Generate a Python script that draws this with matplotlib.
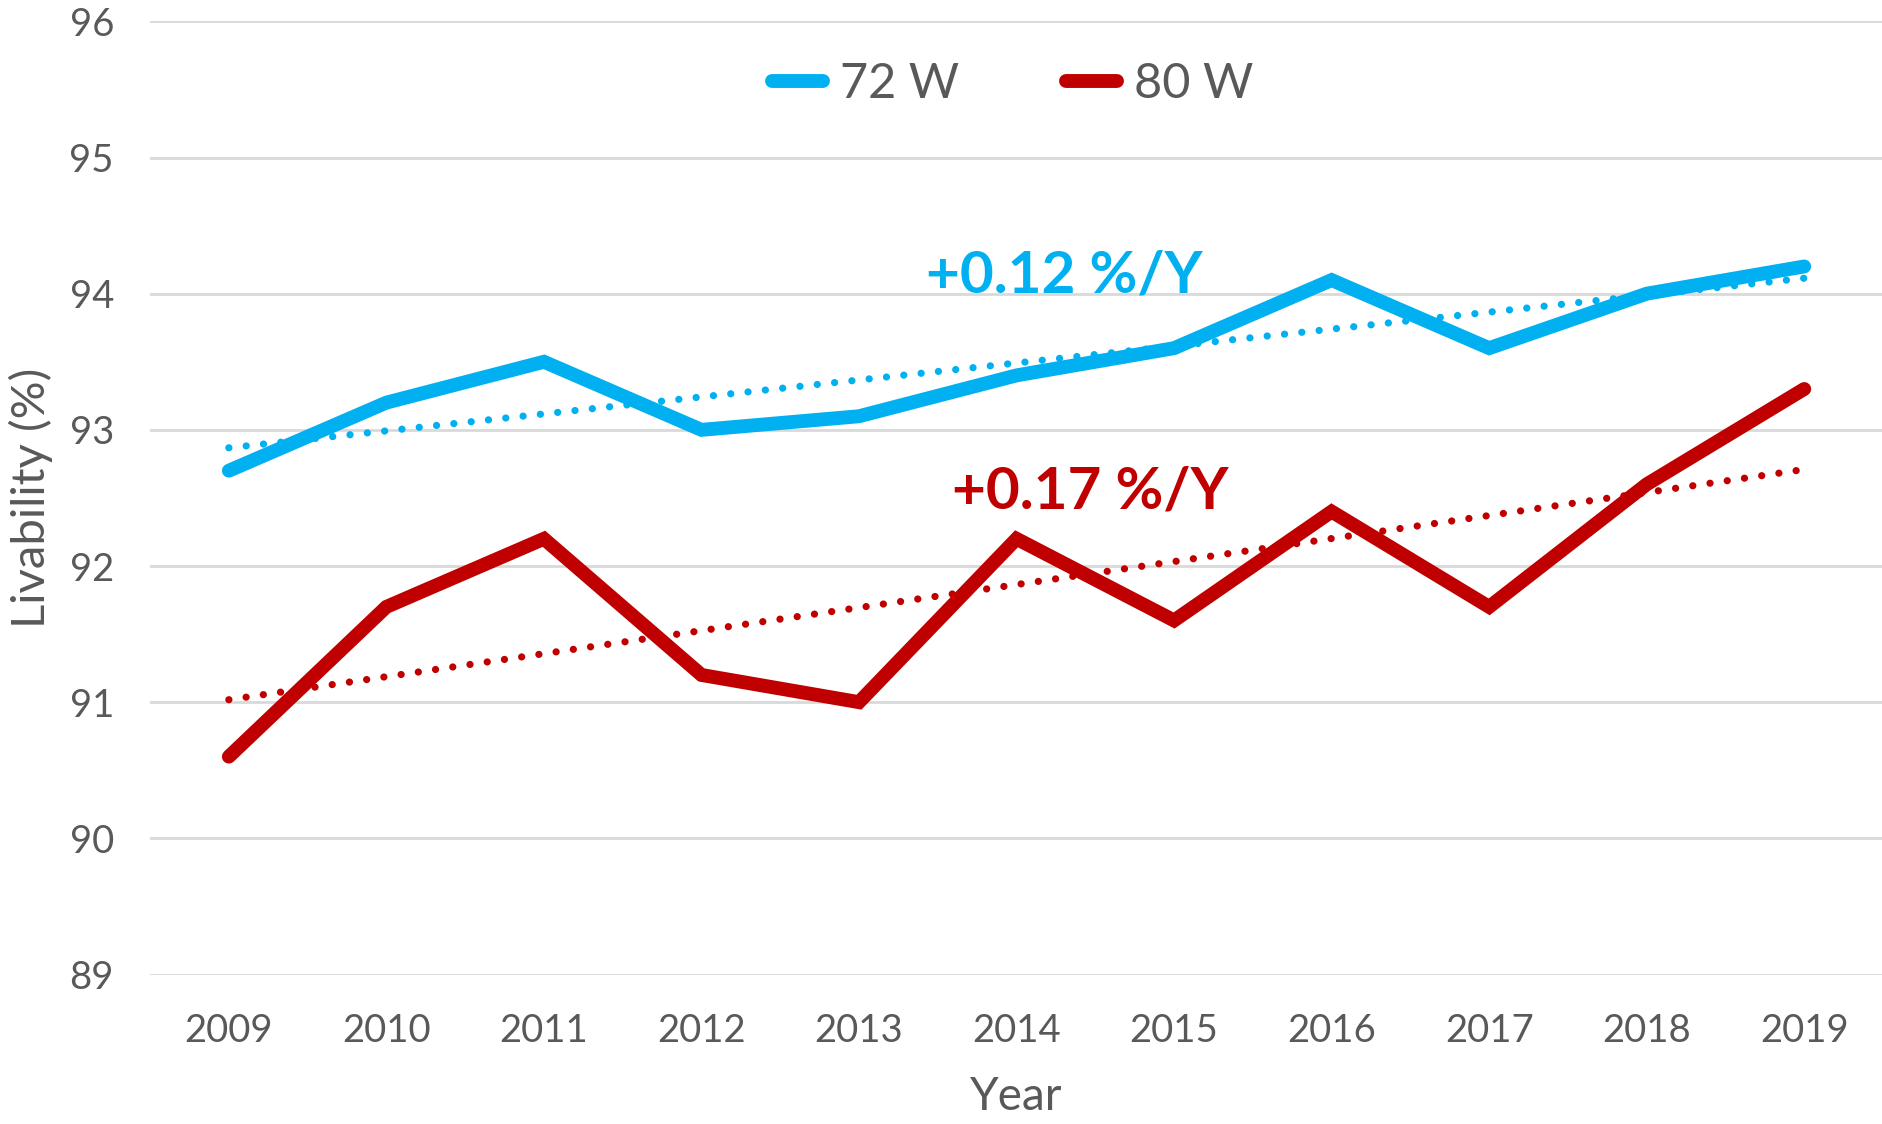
import matplotlib.pyplot as plt
import numpy as np

plt.rcParams['font.family'] = ['Lato', 'DejaVu Sans']

years = ['2009', '2010', '2011', '2012', '2013', '2014', '2015', '2016', '2017', '2018', '2019']
w72 = [92.7, 93.2, 93.5, 93.0, 93.1, 93.4, 93.6, 94.1, 93.6, 94.0, 94.2]
w80 = [90.6, 91.7, 92.2, 91.2, 91.0, 92.2, 91.6, 92.4, 91.7, 92.6, 93.3]
labels = ['72 W', '80 W']
slope_txt = ['+0.12 %/Y', '+0.17 %/Y']

clr = ['#00B0F0', '#C00000']
txt_clr = '#595959'

fig = plt.figure(figsize=(18.83, 11.24), dpi=100)
ax = fig.add_axes([0.0797, 0.133, 0.9203, 0.848])

x = np.arange(len(years))
for i, y in enumerate([w72, w80]):
    ax.plot(x, y, color=clr[i], lw=10, solid_capstyle='round',
            solid_joinstyle='miter', label=labels[i], zorder=3)
    # linear trendline
    k, b = np.polyfit(x, y, 1)
    ax.plot(x, k * x + b, color=clr[i], lw=5.2, linestyle=(0, (0.01, 2.4)),
            dash_capstyle='round', zorder=4)

ax.text(5.30, 94.13, slope_txt[0], color=clr[0], fontsize=42, fontweight='bold',
        ha='center', va='center')
ax.text(5.47, 92.54, slope_txt[1], color=clr[1], fontsize=42, fontweight='bold',
        ha='center', va='center')

ax.set_xlim(-0.5, 10.5)
ax.set_ylim(89, 96)
ax.set_xticks(x)
ax.set_xticklabels(years)
ax.set_yticks(range(89, 97))
ax.tick_params(axis='both', length=0, labelsize=27.5, labelcolor=txt_clr)
ax.tick_params(axis='x', pad=28)
ax.tick_params(axis='y', pad=26)
for s in ax.spines.values():
    s.set_visible(False)
ax.grid(axis='y', color='#D9D9D9', lw=2)
ax.set_axisbelow(True)

ax.set_xlabel('Year', fontsize=33, color=txt_clr, labelpad=19)
ax.set_ylabel('Livability (%)', fontsize=34, color=txt_clr, labelpad=12)

leg = ax.legend(loc='upper center', bbox_to_anchor=(0.498, 1.003), ncol=2, frameon=False,
                fontsize=35, labelcolor=txt_clr, handlelength=1.05, handletextpad=0.35,
                columnspacing=2.2)
for h in leg.legend_handles:
    h.set_linewidth(10)
    h.set_solid_capstyle('round')

fig.savefig('out.png', dpi=100)
